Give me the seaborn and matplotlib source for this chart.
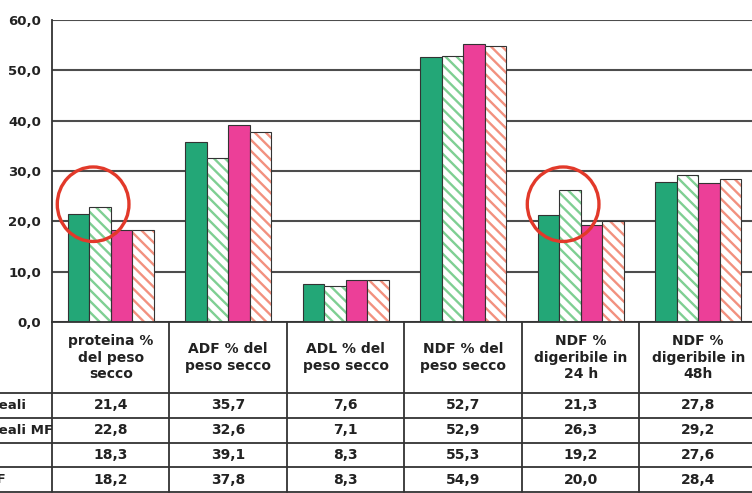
import pandas as pd
import seaborn as sns
import matplotlib.pyplot as plt
from matplotlib.patches import Rectangle, Ellipse
from matplotlib.transforms import blended_transform_factory

categorie = ["proteina %\ndel peso\nsecco", "ADF % del\npeso secco", "ADL % del\npeso secco",
             "NDF % del\npeso secco", "NDF %\ndigeribile in\n24 h", "NDF %\ndigeribile in\n48h"]
serie = ["Erbaio cereali", "Erbaio cereali MF", "Loiessa", "Loiessa MF"]
cereali = [21.4, 35.7, 7.6, 52.7, 21.3, 27.8]
cereali_mf = [22.8, 32.6, 7.1, 52.9, 26.3, 29.2]
loiessa = [18.3, 39.1, 8.3, 55.3, 19.2, 27.6]
loiessa_mf = [18.2, 37.8, 8.3, 54.9, 20.0, 28.4]
y_ticks = [0, 10, 20, 30, 40, 50, 60]
y_tick_labels = ["0,0", "10,0", "20,0", "30,0", "40,0", "50,0", "60,0"]
evidenziati = [0, 4]  # categories circled in red

valori = [cereali, cereali_mf, loiessa, loiessa_mf]
colori = ["#23a777", "#7fcf93", "#ec3f98", "#f2917f"]
tratteggio = [False, True, False, True]

# Long format for seaborn
df = pd.DataFrame({
    "categoria": [c for _ in serie for c in categorie],
    "serie": [s for s in serie for _ in categorie],
    "valore": [v for vals in valori for v in vals],
})

sns.set_style("white")
plt.rcParams["font.family"] = ["DejaVu Sans"]
plt.rcParams["font.weight"] = "bold"
plt.rcParams["hatch.linewidth"] = 1.7

W, H = 752, 493
fig = plt.figure(figsize=(W / 100, H / 100), dpi=100)

# plot area: x from 52px, 117.5px per category; y from 20px (60) to 322px (0)
left = 52 / W
width = 6 * 117.5 / W
ax = fig.add_axes([left, 1 - 322 / H, width, 302 / H])

sns.barplot(data=df, x="categoria", y="valore", hue="serie", order=categorie,
            hue_order=serie, palette=colori, saturation=1, width=0.73,
            edgecolor="#333333", linewidth=0.8, legend=False, ax=ax)

# hatched series: white face with coloured diagonal stripes, dark outline on top
for cont, col, hat in zip(ax.containers, colori, tratteggio):
    for p in cont:
        if hat:
            p.set_facecolor("white")
            p.set_edgecolor(col)
            p.set_hatch("\\\\\\")
            p.set_linewidth(0)
            ax.add_patch(Rectangle(p.get_xy(), p.get_width(), p.get_height(),
                                   fill=False, edgecolor="#333333", lw=0.8,
                                   zorder=p.get_zorder() + 0.1))

ax.set_xlim(-0.5, 5.5)
ax.set_ylim(0, 60)
ax.set_yticks(y_ticks)
ax.set_yticklabels(y_tick_labels)
ax.set_xticks([])
ax.set_xlabel("")
ax.set_ylabel("")
ax.yaxis.grid(True, color="#4d4d4d", lw=1.5)
ax.set_axisbelow(True)
for s in ["top", "right"]:
    ax.spines[s].set_visible(False)
for s in ["left", "bottom"]:
    ax.spines[s].set_color("#333333")
    ax.spines[s].set_linewidth(1.3)
ax.tick_params(axis="y", length=5, width=1.2, color="#333333", pad=3,
               labelsize=9.5, labelcolor="#222222")

# red circles
for c in evidenziati:
    ax.add_patch(Ellipse((c - 0.15, 23.4), width=0.61, height=14.8, fill=False,
                         edgecolor="#e2392a", lw=2.4, zorder=6, clip_on=False))

# data table below the plot
header_h = 2.87
ax_tab = fig.add_axes([left, 1 - 492 / H, width, 170 / H])
ax_tab.set_xlim(-0.5, 5.5)
ax_tab.set_ylim(header_h + 4, 0)
ax_tab.axis("off")

line_kw = dict(color="#333333", lw=1.3, clip_on=False)
for k in range(7):
    ax_tab.plot([k - 0.5, k - 0.5], [0, header_h + 4], **line_kw)
for i in range(5):
    ax_tab.plot([-1.5, 5.6], [header_h + i, header_h + i], **line_kw)

for k, cat in enumerate(categorie):
    ax_tab.text(k, header_h / 2, cat, ha="center", va="center", fontsize=10,
                linespacing=1.25, color="#222222")
    for i, vals in enumerate(valori):
        ax_tab.text(k, header_h + i + 0.5, f"{vals[k]:.1f}".replace(".", ","),
                    ha="center", va="center", fontsize=10, color="#222222")

# row labels: the reference crops them at the left edge
trans = blended_transform_factory(fig.transFigure, ax_tab.transData)
for i, s in enumerate(serie):
    ax_tab.text(-78 / W, header_h + i + 0.5, s, transform=trans, ha="left",
                va="center", fontsize=9.6, color="#222222", clip_on=False)

fig.savefig("out.png", dpi=100)
